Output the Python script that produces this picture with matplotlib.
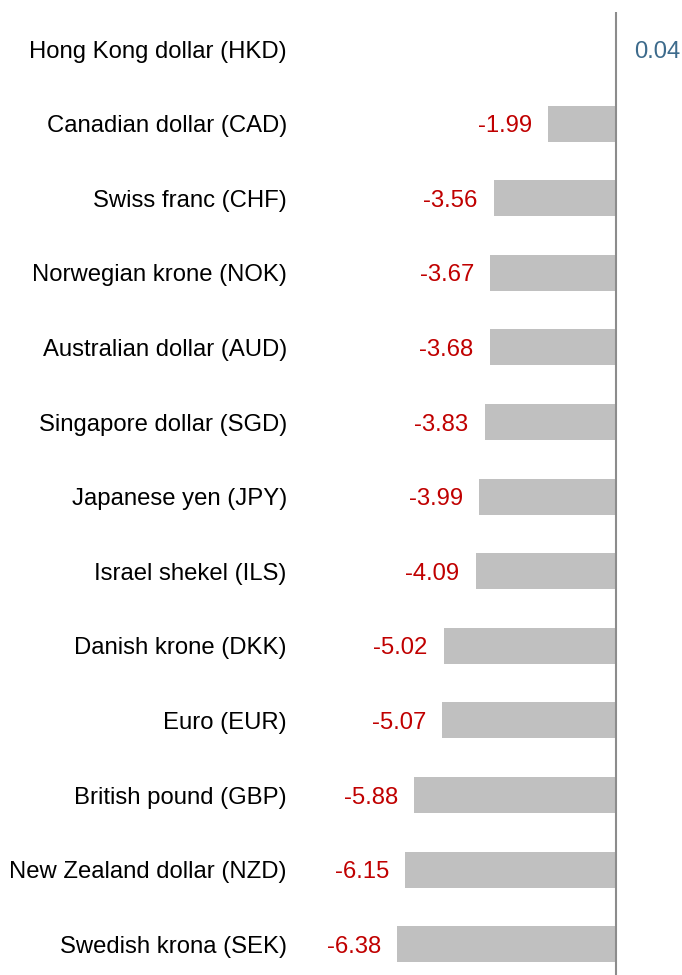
import matplotlib.pyplot as plt

plt.rcParams['font.family'] = ['Liberation Sans', 'DejaVu Sans']

currencies = ['Hong Kong dollar (HKD)', 'Canadian dollar (CAD)', 'Swiss franc (CHF)',
              'Norwegian krone (NOK)', 'Australian dollar (AUD)', 'Singapore dollar (SGD)',
              'Japanese yen (JPY)', 'Israel shekel (ILS)', 'Danish krone (DKK)',
              'Euro (EUR)', 'British pound (GBP)', 'New Zealand dollar (NZD)',
              'Swedish krona (SEK)']
changes = [0.04, -1.99, -3.56, -3.67, -3.68, -3.83, -3.99, -4.09, -5.02, -5.07, -5.88, -6.15, -6.38]

fig = plt.figure(figsize=(6.82, 9.75), dpi=100)
ax = fig.add_axes([300 / 682, 0, 382 / 682, 1])

pos = list(range(len(currencies)))
ax.barh(pos, changes, height=0.48, color='#c0c0c0')

# y limits so that rows sit where the reference puts them
ax.set_ylim((975 - 49) / 74.6, -49 / 74.6)
ax.set_xlim((300 - 616) / 34.33, (682 - 616) / 34.33)
ax.vlines(0, -0.5, (975 - 49) / 74.6, color='#8c8c8c', lw=1.5)

ax.set_yticks(pos)
ax.set_yticklabels(currencies, fontsize=17.2, va='center_baseline')
ax.tick_params(axis='y', length=0, pad=9.5)
ax.set_xticks([])
for s in ax.spines.values():
    s.set_visible(False)

for y, v in zip(pos, changes):
    if v < 0:
        ax.annotate(f'{v:.2f}', (v, y), xytext=(-11.5, 0), textcoords='offset points',
                    ha='right', va='center_baseline', color='#c00000', fontsize=17.2)
    else:
        ax.annotate(f'{v:.2f}', (v, y), xytext=(12, 0), textcoords='offset points',
                    ha='left', va='center_baseline', color='#3d6b8c', fontsize=17.2)

fig.savefig('out.png', dpi=100)
